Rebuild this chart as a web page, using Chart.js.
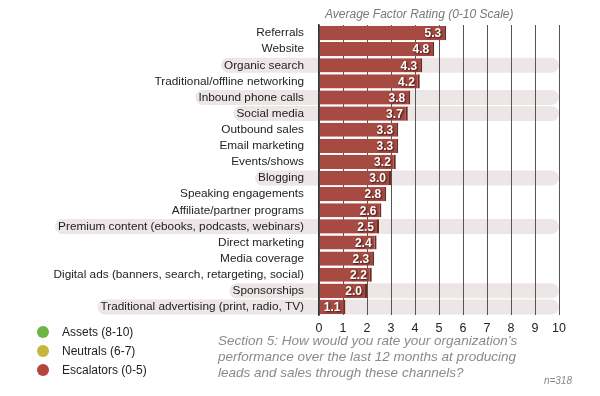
<!DOCTYPE html>
<html>
<head>
<meta charset="utf-8">
<script src="https://cdn.jsdelivr.net/npm/chart.js@4"></script>
<style>
  body { margin: 0; background: #fff; }
  #wrap { position: relative; width: 600px; height: 396px; font-family: "Liberation Sans", Arial, sans-serif; }
  #chart { position: absolute; left: 0; top: 0; }
  .title { position: absolute; left: 325px; top: 7px; font-size: 12px; font-style: italic; color: #777; }
  .legend { position: absolute; left: 37px; top: 324px; font-size: 12px; color: #222; }
  .legend div { height: 19px; line-height: 16px; }
  .legend span { display: inline-block; width: 12px; height: 12px; border-radius: 50%; margin-right: 13px; vertical-align: -2px; }
  .note { position: absolute; left: 218px; top: 333px; font-size: 13.5px; font-style: italic; color: #8a8a8a; line-height: 16px; }
  .n { position: absolute; right: 28px; top: 375px; font-size: 10px; font-style: italic; color: #888; }
</style>
</head>
<body>
<div id="wrap">
  <canvas id="chart" width="600" height="396"></canvas>
  <div class="title">Average Factor Rating (0-10 Scale)</div>
  <div class="legend">
    <div><span style="background:#6cb443"></span>Assets (8-10)</div>
    <div><span style="background:#c9b53c"></span>Neutrals (6-7)</div>
    <div><span style="background:#b8443e"></span>Escalators (0-5)</div>
  </div>
  <div class="note">Section 5: How would you rate your organization’s<br>performance over the last 12 months at producing<br>leads and sales through these channels?</div>
  <div class="n">n=318</div>
</div>
<script>
const channels = ["Referrals", "Website", "Organic search", "Traditional/offline networking",
  "Inbound phone calls", "Social media", "Outbound sales", "Email marketing", "Events/shows",
  "Blogging", "Speaking engagements", "Affiliate/partner programs",
  "Premium content (ebooks, podcasts, webinars)", "Direct marketing", "Media coverage",
  "Digital ads (banners, search, retargeting, social)", "Sponsorships",
  "Traditional advertising (print, radio, TV)"];
const ratings = [5.3, 4.8, 4.3, 4.2, 3.8, 3.7, 3.3, 3.3, 3.2, 3.0, 2.8, 2.6, 2.5, 2.4, 2.3, 2.2, 2.0, 1.1];
const shaded = ["Organic search", "Inbound phone calls", "Social media", "Blogging",
  "Premium content (ebooks, podcasts, webinars)", "Sponsorships",
  "Traditional advertising (print, radio, TV)"];
const xTicks = [0, 1, 2, 3, 4, 5, 6, 7, 8, 9, 10];

const labelSize = 11.8;
const labelPad = 7;
const labelFont = labelSize + 'px "Liberation Sans", Arial, sans-serif';

// light rounded bands behind some rows
const bandPlugin = {
  id: "bands",
  beforeDraw(chart) {
    const ctx = chart.ctx;
    const x = chart.scales.x, y = chart.scales.y;
    ctx.save();
    ctx.font = labelFont;
    ctx.fillStyle = "#ede6e6";
    channels.forEach((c, i) => {
      if (!shaded.includes(c)) return;
      const cy = y.getPixelForValue(i);
      const w = ctx.measureText(c).width;
      const left = x.left - labelPad - w - 11;
      const right = x.getPixelForValue(10);
      ctx.beginPath();
      ctx.roundRect(left, cy - 7.5, right - left, 15, 7.5);
      ctx.fill();
    });
    ctx.restore();
  }
};

// value labels inside the bar ends
const valuePlugin = {
  id: "values",
  afterDatasetsDraw(chart) {
    const ctx = chart.ctx;
    const meta = chart.getDatasetMeta(0);
    ctx.save();
    ctx.font = 'bold 12px "Liberation Sans", Arial, sans-serif';
    ctx.textAlign = "right";
    ctx.textBaseline = "middle";
    ctx.fillStyle = "#fff";
    ctx.shadowColor = "rgba(40,10,5,0.9)";
    ctx.shadowBlur = 2;
    ctx.shadowOffsetX = 1;
    ctx.shadowOffsetY = 1;
    meta.data.forEach((bar, i) => {
      ctx.fillText(ratings[i].toFixed(1), bar.x - 5, bar.y + 1);
    });
    ctx.restore();
  }
};

new Chart(document.querySelector("#chart"), {
  type: "bar",
  data: {
    labels: channels,
    datasets: [{
      data: ratings,
      backgroundColor: "#a64a42",
      borderColor: "#6e2a24",
      borderWidth: { top: 0, right: 2, bottom: 0, left: 0 },
      borderSkipped: false,
      categoryPercentage: 1,
      barPercentage: 0.88
    }]
  },
  options: {
    indexAxis: "y",
    responsive: false,
    animation: false,
    layout: { padding: { left: 0, right: 41, top: 25, bottom: 61 } },
    plugins: { legend: { display: false }, tooltip: { enabled: false } },
    scales: {
      x: {
        min: 0, max: 10,
        afterBuildTicks: s => { s.ticks = xTicks.map(v => ({ value: v })); },
        afterFit: s => { s.height = 20; },
        grid: { color: "#555", lineWidth: 1, drawTicks: false },
        border: { display: false },
        ticks: { color: "#222", padding: 6, font: { family: "Liberation Sans", size: 12.5 } }
      },
      y: {
        afterFit: s => { s.width = 319; },
        grid: { display: false },
        border: { color: "#333", width: 1.5 },
        ticks: { color: "#222", padding: labelPad, autoSkip: false, font: { family: "Liberation Sans", size: labelSize } }
      }
    }
  },
  plugins: [bandPlugin, valuePlugin]
});
</script>
</body>
</html>
